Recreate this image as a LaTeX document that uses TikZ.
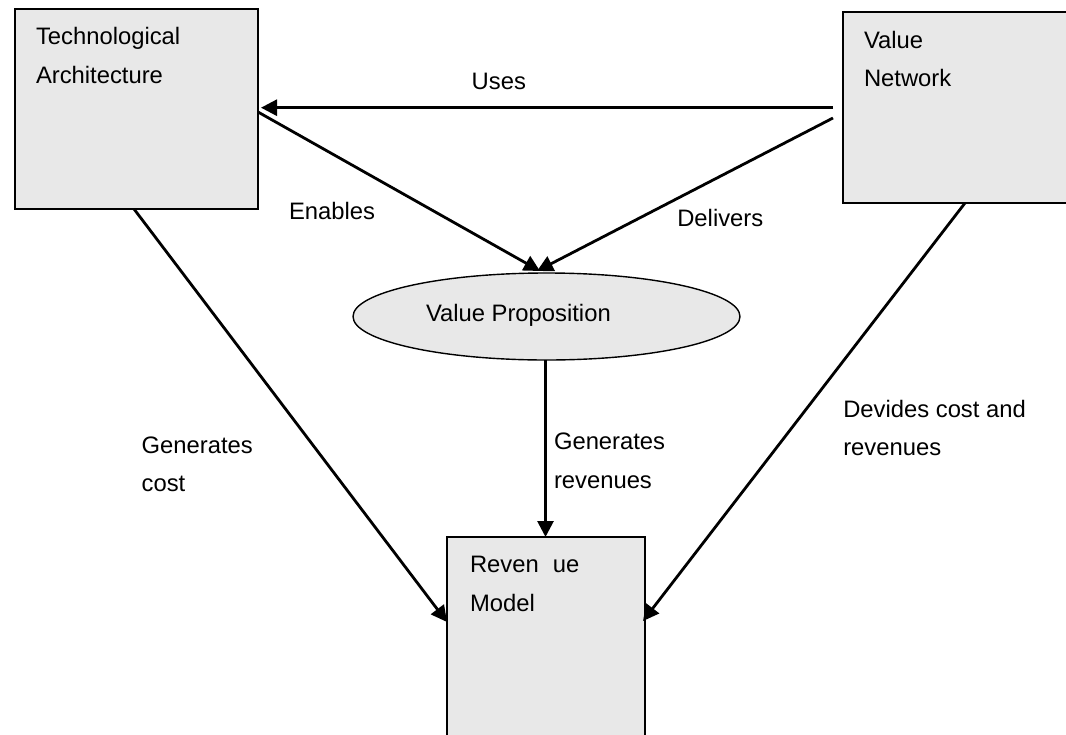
\documentclass[tikz,border=0pt]{standalone}
\usepackage{fontspec}
\setmainfont{Liberation Sans}
\usetikzlibrary{arrows.meta,shapes.geometric}
\definecolor{boxgray}{RGB}{232,232,232}
\begin{document}
\begin{tikzpicture}[x=0.5pt,y=-0.5pt,
  box/.style={draw=black,fill=boxgray,line width=0.85pt,inner sep=0pt,outer sep=0pt},
  oval/.style={ellipse,draw=black,fill=boxgray,line width=0.7pt,inner sep=0pt,outer sep=0pt},
  lbl/.style={anchor=base west,inner sep=0pt,outer sep=0pt,font=\fontsize{11.9}{14}\selectfont},
  arr/.style={line width=1.4pt,-{Triangle[length=8pt,width=8pt]}}]
\useasboundingbox (0,0) rectangle (1066,734);
\clip (0,0) rectangle (1066,734);
% boxes
\node[box,minimum width=121.5pt,minimum height=100pt] (tech) at (136.5,109) {};
\node[box,minimum width=128.5pt,minimum height=95.5pt] (vnet) at (971.5,107.5) {};
\node[box,minimum width=99pt,minimum height=121.5pt] (rev) at (546,658.5) {};
\node[oval,minimum width=193.5pt,minimum height=43.5pt] (vprop) at (546.5,316.5) {};
% box texts
\node[lbl] (t1) at (36,44) {Technological};
\node[lbl] (t2) at (36,83) {Architecture};
\node[lbl] (n1) at (864,48.3) {Value};
\node[lbl] (n2) at (864,86) {Network};
\node[lbl] (r1) at (470,572.7) {Reven\hspace*{7pt}ue};
\node[lbl] (r2) at (470,611) {Model};
\node[lbl] (p1) at (426,321) {Value Proposition};
% connector labels
\node[lbl] (uses) at (471.7,89.3) {Uses};
\node[lbl] (enab) at (289,219.3) {Enables};
\node[lbl] (deliv) at (677.3,226) {Delivers};
\node[lbl] (gc1) at (141.7,453) {Generates};
\node[lbl] (gc2) at (141.7,491) {cost};
\node[lbl] (gr1) at (554,449) {Generates};
\node[lbl] (gr2) at (554,488) {revenues};
\node[lbl] (dc1) at (843.3,417) {Devides cost and};
\node[lbl] (dc2) at (843.3,455) {revenues};
% connector end points
\coordinate (usesS) at (833,107.7);
\coordinate (usesE) at (261,107.7);
\coordinate (enabS) at (258,112);
\coordinate (enabE) at (540,271);
\coordinate (delS) at (833,118);
\coordinate (delE) at (537,271);
\coordinate (gcS) at (134,209);
\coordinate (gcE) at (447,622);
\coordinate (grS) at (545.5,360);
\coordinate (grE) at (545.5,537);
\coordinate (dcS) at (965,203);
\coordinate (dcE) at (643,621);
% connectors
\draw[arr] (usesS) -- (usesE);
\draw[arr] (enabS) -- (enabE);
\draw[arr] (delS) -- (delE);
\draw[arr] (gcS) -- (gcE);
\draw[arr] (grS) -- (grE);
\draw[arr] (dcS) -- (dcE);
\end{tikzpicture}
\end{document}
